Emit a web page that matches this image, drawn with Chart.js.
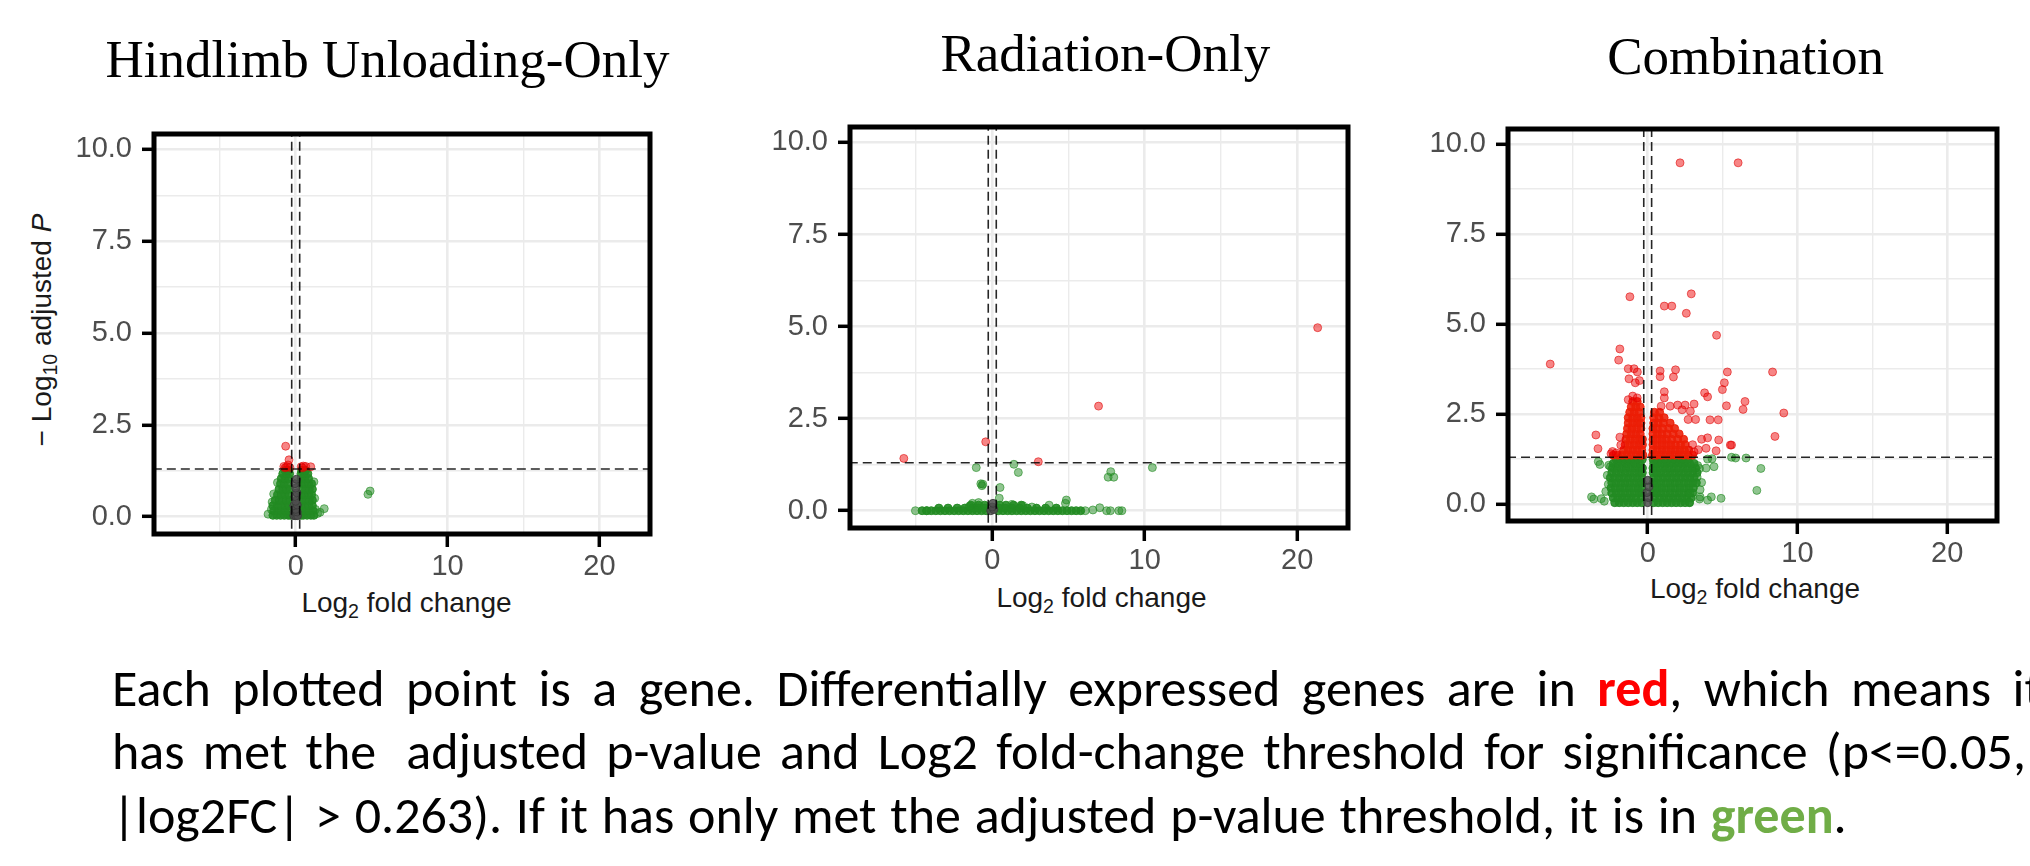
<!DOCTYPE html>
<html>
<head>
<meta charset="utf-8">
<script src="https://cdn.jsdelivr.net/npm/chart.js@4.4.1/dist/chart.umd.min.js"></script>
<style>
  html, body { margin: 0; padding: 0; background: #fff; }
  body { width: 2030px; height: 866px; position: relative; overflow: hidden; }
  canvas { position: absolute; }
  .title { position: absolute; font-family: "Liberation Serif", "Times New Roman", serif; font-size: 53px; line-height: 53px; white-space: nowrap; transform: translateX(-50%); color: #000; }
  .xlab, .ylab { position: absolute; font-family: "Liberation Sans", Arial, sans-serif; font-size: 28px; line-height: 28px; white-space: nowrap; color: #1a1a1a; }
  .xlab { transform: translateX(-50%); }
  .ylab { transform: translate(-50%, -50%) rotate(-90deg); }
  .xlab sub, .ylab sub { font-size: 0.7em; vertical-align: -0.3em; line-height: 0; }
  #note { position: absolute; left: 112px; top: 657px; font-family: Carlito, Calibri, Lato, sans-serif; font-size: 52px; color: #000; }
  #note .line { height: 63.3px; line-height: 63.3px; white-space: nowrap; }
  #note .just { display: flex; justify-content: space-between; }
  #note .last { word-spacing: 2px; }
  #note .red { color: #ff0000; font-weight: bold; }
  #note .green { color: #70ad47; font-weight: bold; }
</style>
</head>
<body id="body">
<div id="app"></div>
<script>
// axes
const xMin = -9.33, xMax = 23.33;
const yMin = -0.47, yMax = 10.42;
const xGridValues = [-5, 0, 5, 10, 15, 20];
const xTickLabels = [0, 10, 20];
const yGridValues = [0, 1.25, 2.5, 3.75, 5, 6.25, 7.5, 8.75, 10];
const yTickLabels = [0, 2.5, 5, 7.5, 10];
const log2fcCutoff = 0.263;
const pCutoff = 1.301; // -log10(0.05)

const panelTitles = ['Hindlimb Unloading-Only', 'Radiation-Only', 'Combination'];

// Hindlimb unloading-only  [log2FC, -log10 padj]
const hluRed = [[-0.66,1.92],[-0.44,1.55],[-0.78,1.37],[-0.6,1.36],[-0.5,1.41],[-0.7,1.33],[-0.38,1.34],
  [0.36,1.36],[0.5,1.38],[0.66,1.37],[0.99,1.36],[0.45,1.33]];
const hluGreen = [[4.76,0.61],[4.9,0.7],[-1.82,0.07],[1.44,0.09],[1.88,0.22],[1.6,0.12],[-1.55,0.4],
  [-1.2,0.93],[1.2,0.95],[1.25,0.5],[-1.45,0.62],[1.3,0.2],[-1.6,0.2]];
const hluGreenDense = [
  [-1.5,0.04],[-1.25,0.04],[-1.0,0.04],[-0.75,0.04],[-0.5,0.04],[-0.34,0.04],[0.34,0.04],[0.5,0.04],[0.75,0.04],[1.0,0.04],[1.2,0.04],
  [-1.45,0.16],[-1.2,0.16],[-0.95,0.16],[-0.7,0.16],[-0.45,0.16],[0.4,0.16],[0.65,0.16],[0.9,0.16],[1.15,0.16],
  [-1.5,0.3],[-1.2,0.3],[-0.95,0.3],[-0.7,0.3],[-0.45,0.3],[0.35,0.3],[0.6,0.3],[0.85,0.3],[1.1,0.3],
  [-1.35,0.45],[-1.1,0.45],[-0.85,0.45],[-0.6,0.45],[-0.38,0.45],[0.4,0.45],[0.65,0.45],[0.9,0.45],[1.1,0.45],
  [-1.2,0.6],[-0.95,0.6],[-0.7,0.6],[-0.45,0.6],[0.35,0.6],[0.6,0.6],[0.85,0.6],[1.05,0.6],
  [-1.1,0.75],[-0.85,0.75],[-0.6,0.75],[-0.38,0.75],[0.4,0.75],[0.65,0.75],[0.9,0.75],[1.1,0.75],
  [-1.0,0.9],[-0.75,0.9],[-0.5,0.9],[0.35,0.9],[0.6,0.9],[0.85,0.9],[1.05,0.9],
  [-0.95,1.04],[-0.7,1.04],[-0.45,1.04],[0.35,1.04],[0.6,1.04],[0.85,1.04],
  [-0.85,1.17],[-0.6,1.17],[-0.4,1.17],[0.35,1.17],[0.55,1.17],[0.8,1.17],
  [-0.7,1.26],[-0.45,1.26],[0.4,1.26],[0.65,1.26]];
const hluGrey = [[-0.12,0.03],[0,0.03],[0.12,0.03],[-0.1,0.13],[0.1,0.13],[0,0.2],[-0.12,0.3],[0.1,0.32],
  [0,0.42],[-0.05,0.55],[0.08,0.65],[0,0.78],[-0.05,0.9],[0.05,1.02]];

// Radiation-only
const radRed = [[-5.8,1.42],[-0.43,1.87],[3.02,1.33],[6.97,2.84],[21.34,4.97]];
const radGreen = [[-1.05,1.17],[1.42,1.26],[1.71,1.04],[-0.75,0.73],[-0.62,0.72],[-0.68,0.68],[0.51,0.63],
  [0.46,0.34],[7.77,1.06],[7.6,0.91],[7.97,0.91],[10.5,1.17],[4.86,0.29],[4.8,0.2],[3.73,0.15],
  [-5.04,0.0],[-4.3,0.0],[6.1,0.0],[6.6,0.02],[7.05,0.08],[7.5,0.0],[7.75,0.0],[8.3,0.0],[8.5,0.0],
  [-1.3,0.2],[-0.9,0.22],[1.3,0.17],[2.0,0.14],[2.6,0.1],[-1.5,0.12]];
const radGreenDense = [
  [-4.6,0],[-4.3,0],[-4.0,0],[-3.7,0],[-3.4,0],[-3.1,0],[-2.8,0],[-2.5,0],[-2.2,0],[-1.9,0],[-1.6,0],[-1.3,0],
  [-1.0,0],[-0.7,0],[-0.4,0],[0.4,0],[0.7,0],[1.0,0],[1.3,0],[1.6,0],[1.9,0],[2.2,0],[2.5,0],[2.8,0],[3.1,0],
  [3.4,0],[3.7,0],[4.0,0],[4.3,0],[4.6,0],[4.9,0],[5.2,0],[5.5,0],[5.8,0],
  [-3.5,0.07],[-2.9,0.07],[-2.3,0.07],[-1.8,0.07],[-1.3,0.07],[-0.9,0.07],[-0.5,0.07],[0.45,0.07],[0.85,0.07],
  [1.3,0.07],[1.8,0.07],[2.3,0.07],[2.9,0.07],[3.5,0.07],[4.2,0.07],
  [-1.4,0.15],[-0.9,0.15],[-0.5,0.15],[0.5,0.15],[0.9,0.15],[1.4,0.15],[1.9,0.15]];
const radGrey = [[-0.1,0.0],[0.1,0.03],[0.0,0.1],[0.05,0.2]];

// Combination
const comboRed = [[2.16,9.48],[6.04,9.48],[-1.19,5.76],[2.91,5.84],[1.11,5.5],[1.61,5.5],[2.58,5.3],[4.6,4.69],
  [-6.51,3.89],[-1.86,4.31],[-1.94,4.0],[-1.3,3.76],[-0.91,3.76],[-0.69,3.67],[-1.25,3.48],[-0.83,3.37],
  [-0.55,3.43],[0.83,3.7],[0.83,3.54],[1.86,3.73],[1.72,3.53],[5.32,3.67],[5.12,3.37],[4.99,3.18],[8.34,3.67],
  [1.11,3.12],[3.8,3.09],[4.0,2.98],[6.5,2.85],[6.37,2.63],[5.26,2.73],[9.09,2.53],[8.5,1.88],[-3.46,1.92],
  [-3.32,1.54],[-2.35,1.46],[-1.86,1.86],[-1.8,1.64],[4.16,2.34],[4.71,2.34],[5.6,1.64],[4.57,1.48],[4.0,1.84],
  [3.38,1.51],[-1.0,3.0],[-0.7,2.95],[-1.3,2.9],[1.11,2.95],[0.9,2.72],[1.5,2.72],[2.0,2.75],[2.5,2.75],
  [3.1,2.78],[2.3,2.62],[2.85,2.58],[3.2,2.35],[2.7,2.35],[4.74,1.78],[5.52,1.64],[3.6,1.8],[3.9,1.55],
  [3.1,1.45],[3.0,1.65],[-2.45,1.4],[-2.1,1.42]];
const comboRedDense = [
  [-2.3,1.36],[-2.0,1.36],[-1.7,1.36],[-1.4,1.36],[-1.1,1.36],[-0.8,1.36],[-0.5,1.36],[-0.32,1.36],
  [-1.6,1.5],[-1.3,1.5],[-1.0,1.5],[-0.7,1.5],[-0.4,1.5],
  [-1.5,1.65],[-1.2,1.65],[-0.9,1.65],[-0.6,1.65],[-0.35,1.65],
  [-1.45,1.8],[-1.15,1.8],[-0.85,1.8],[-0.55,1.8],[-0.35,1.8],
  [-1.4,1.95],[-1.1,1.95],[-0.8,1.95],[-0.5,1.95],
  [-1.35,2.1],[-1.05,2.1],[-0.75,2.1],[-0.45,2.1],
  [-1.3,2.25],[-1.0,2.25],[-0.7,2.25],[-0.45,2.25],
  [-1.3,2.4],[-1.0,2.4],[-0.7,2.4],[-0.45,2.4],
  [-1.2,2.55],[-0.9,2.55],[-0.6,2.55],
  [-1.1,2.7],[-0.8,2.7],[-0.5,2.7],
  [-1.0,2.85],[-0.7,2.85],
  [0.32,1.36],[0.6,1.36],[0.9,1.36],[1.2,1.36],[1.5,1.36],[1.8,1.36],[2.1,1.36],[2.4,1.36],[2.7,1.36],[3.0,1.36],
  [0.35,1.5],[0.65,1.5],[0.95,1.5],[1.25,1.5],[1.55,1.5],[1.85,1.5],[2.15,1.5],[2.45,1.5],[2.75,1.5],
  [0.35,1.65],[0.65,1.65],[0.95,1.65],[1.25,1.65],[1.55,1.65],[1.85,1.65],[2.2,1.65],[2.5,1.65],
  [0.35,1.8],[0.65,1.8],[0.95,1.8],[1.25,1.8],[1.6,1.8],[2.0,1.8],[2.4,1.8],
  [0.35,1.95],[0.65,1.95],[0.95,1.95],[1.3,1.95],[1.7,1.95],[2.1,1.95],
  [0.35,2.1],[0.65,2.1],[1.0,2.1],[1.4,2.1],[1.8,2.1],
  [0.4,2.25],[0.7,2.25],[1.05,2.25],[1.5,2.25],
  [0.4,2.4],[0.75,2.4],[1.1,2.4],
  [0.45,2.55],[0.8,2.55]];
const comboGreen = [[-3.3,1.18],[-2.6,1.08],[-3.19,1.1],[-2.49,1.04],[-3.75,0.2],[-3.1,0.15],[-3.6,0.14],
  [-2.9,0.08],[-2.63,0.55],[-2.8,0.35],[4.25,0.2],[3.5,0.2],[2.8,0.3],[3.9,1.0],[3.34,1.07],[4.0,1.25],
  [4.3,1.26],[4.43,1.04],[3.46,0.99],[5.6,1.3],[5.87,1.28],[6.57,1.28],[7.56,0.99],[7.29,0.38],[4.9,0.16],
  [4.0,0.11],[3.46,0.14],[2.77,0.05],[3.6,0.6],[3.5,0.4],[-2.7,0.8],[3.3,0.75]];
const comboGreenDense = [
  [-2.2,0.04],[-1.9,0.04],[-1.6,0.04],[-1.3,0.04],[-1.0,0.04],[-0.7,0.04],[-0.4,0.04],[0.4,0.04],[0.7,0.04],
  [1.0,0.04],[1.3,0.04],[1.6,0.04],[1.9,0.04],[2.2,0.04],[2.5,0.04],[2.8,0.04],
  [-2.3,0.17],[-2.0,0.17],[-1.7,0.17],[-1.4,0.17],[-1.1,0.17],[-0.8,0.17],[-0.45,0.17],[0.45,0.17],[0.8,0.17],
  [1.1,0.17],[1.4,0.17],[1.7,0.17],[2.0,0.17],[2.3,0.17],[2.6,0.17],[2.9,0.17],
  [-2.4,0.31],[-2.1,0.31],[-1.8,0.31],[-1.5,0.31],[-1.2,0.31],[-0.9,0.31],[-0.6,0.31],[-0.35,0.31],[0.35,0.31],
  [0.6,0.31],[0.9,0.31],[1.2,0.31],[1.5,0.31],[1.8,0.31],[2.1,0.31],[2.4,0.31],[2.7,0.31],[3.0,0.31],
  [-2.45,0.45],[-2.15,0.45],[-1.85,0.45],[-1.55,0.45],[-1.25,0.45],[-0.95,0.45],[-0.65,0.45],[-0.38,0.45],
  [0.38,0.45],[0.65,0.45],[0.95,0.45],[1.25,0.45],[1.55,0.45],[1.85,0.45],[2.15,0.45],[2.45,0.45],[2.75,0.45],[3.05,0.45],
  [-2.4,0.59],[-2.1,0.59],[-1.8,0.59],[-1.5,0.59],[-1.2,0.59],[-0.9,0.59],[-0.6,0.59],[-0.36,0.59],[0.36,0.59],
  [0.6,0.59],[0.9,0.59],[1.2,0.59],[1.5,0.59],[1.8,0.59],[2.1,0.59],[2.4,0.59],[2.7,0.59],[3.0,0.59],[3.25,0.59],
  [-2.5,0.73],[-2.2,0.73],[-1.9,0.73],[-1.6,0.73],[-1.3,0.73],[-1.0,0.73],[-0.7,0.73],[-0.4,0.73],[0.4,0.73],
  [0.7,0.73],[1.0,0.73],[1.3,0.73],[1.6,0.73],[1.9,0.73],[2.2,0.73],[2.5,0.73],[2.8,0.73],[3.1,0.73],
  [-2.4,0.87],[-2.1,0.87],[-1.8,0.87],[-1.5,0.87],[-1.2,0.87],[-0.9,0.87],[-0.6,0.87],[-0.36,0.87],[0.36,0.87],
  [0.6,0.87],[0.9,0.87],[1.2,0.87],[1.5,0.87],[1.8,0.87],[2.1,0.87],[2.4,0.87],[2.7,0.87],[3.0,0.87],[3.3,0.87],
  [-2.35,1.0],[-2.05,1.0],[-1.75,1.0],[-1.45,1.0],[-1.15,1.0],[-0.85,1.0],[-0.55,1.0],[-0.35,1.0],[0.35,1.0],
  [0.55,1.0],[0.85,1.0],[1.15,1.0],[1.45,1.0],[1.75,1.0],[2.05,1.0],[2.35,1.0],[2.65,1.0],[2.95,1.0],[3.2,1.0],
  [-2.3,1.13],[-2.0,1.13],[-1.7,1.13],[-1.4,1.13],[-1.1,1.13],[-0.8,1.13],[-0.5,1.13],[0.4,1.13],[0.7,1.13],
  [1.0,1.13],[1.3,1.13],[1.6,1.13],[1.9,1.13],[2.2,1.13],[2.5,1.13],[2.8,1.13],[3.1,1.13],
  [-2.1,1.24],[-1.8,1.24],[-1.5,1.24],[-1.2,1.24],[-0.9,1.24],[-0.6,1.24],[-0.36,1.24],[0.36,1.24],[0.6,1.24],
  [0.9,1.24],[1.2,1.24],[1.5,1.24],[1.8,1.24],[2.1,1.24],[2.4,1.24],[2.7,1.24]];
const comboGrey = [[0,0.04],[0.05,0.18],[-0.05,0.32],[0.08,0.48],[0,0.66]];

const panelData = [
  { red: hluRed, green: hluGreen, greenDense: hluGreenDense, grey: hluGrey },
  { red: radRed, green: radGreen, greenDense: radGreenDense, grey: radGrey },
  { red: comboRed, redDense: comboRedDense, green: comboGreen, greenDense: comboGreenDense, grey: comboGrey }
];

// caption words (justified lines 1-2, plain line 3)
const noteLine1 = ['Each', 'plotted', 'point', 'is', 'a', 'gene.', 'Differentially', 'expressed', 'genes', 'are', 'in', '<span class="red">red</span>,', 'which', 'means', 'it'];
const noteLine2 = ['has', 'met', 'the', '&nbsp;adjusted', 'p-value', 'and', 'Log2', 'fold-change', 'threshold', 'for', 'significance', '(p&lt;=0.05,'];
const noteLine3 = '|log2FC| &gt; 0.263). If it has only met the adjusted p-value threshold, it is in <span class="green">green</span>.';

// where each plot box sits on the page
const layout = [
  { box: { left: 154, top: 134, right: 650, bottom: 534 }, titleX: 387.5, titleTop: 32.6, xlabX: 406.5, xlabTop: 589 },
  { box: { left: 850, top: 127, right: 1348, bottom: 528 }, titleX: 1105.3, titleTop: 26.8, xlabX: 1101.5, xlabTop: 584 },
  { box: { left: 1508, top: 129, right: 1997, bottom: 521 }, titleX: 1745.6, titleTop: 29.9, xlabX: 1755, xlabTop: 575 }
];
const AXIS_W = 90, AXIS_H = 50, PAD_T = 32, PAD_R = 12;

const app = document.getElementById('app');

const framePlugin = {
  id: 'frame',
  afterDraw(chart) {
    const { ctx, chartArea: a } = chart;
    ctx.save();
    ctx.lineWidth = 5;
    ctx.strokeStyle = '#000';
    ctx.strokeRect(a.left, a.top, a.right - a.left, a.bottom - a.top);
    ctx.restore();
  }
};

const pts = arr => arr.map(([x, y]) => ({ x, y }));
const dash = { showLine: true, pointRadius: 0, borderColor: 'rgba(0,0,0,0.85)', borderWidth: 1.6, borderDash: [9, 5], order: 0 };
const dot = (fill, edge, order) => ({ backgroundColor: fill, borderColor: edge, borderWidth: 1, pointRadius: 4, order });

function buildDatasets(d) {
  const sets = [
    { ...dash, data: [{ x: -log2fcCutoff, y: yMin - 1 }, { x: -log2fcCutoff, y: yMax + 1 }] },
    { ...dash, data: [{ x: log2fcCutoff, y: yMin - 1 }, { x: log2fcCutoff, y: yMax + 1 }] },
    { ...dash, data: [{ x: xMin - 1, y: pCutoff }, { x: xMax + 1, y: pCutoff }] },
    { ...dot('rgba(238,0,0,0.48)', 'rgba(220,0,0,0.55)', 1), data: pts(d.red) },
    { ...dot('rgba(77,77,77,0.85)', 'rgba(60,60,60,0.85)', 3), data: pts(d.grey) },
    { ...dot('rgba(34,139,34,0.5)', 'rgba(34,139,34,0.6)', 4), data: pts(d.green) },
    { ...dot('rgba(34,139,34,0.9)', 'rgba(34,139,34,0.9)', 5), data: pts(d.greenDense) }
  ];
  if (d.redDense) sets.push({ ...dot('rgba(236,30,6,0.88)', 'rgba(236,30,6,0.88)', 2), data: pts(d.redDense) });
  return sets;
}

const tickFont = { family: '"Liberation Sans", Arial, sans-serif', size: 29 };

layout.forEach((L, i) => {
  const b = L.box;
  const canvas = document.createElement('canvas');
  canvas.width = (b.right - b.left) + AXIS_W + PAD_R;
  canvas.height = (b.bottom - b.top) + PAD_T + AXIS_H;
  canvas.style.left = (b.left - AXIS_W) + 'px';
  canvas.style.top = (b.top - PAD_T) + 'px';
  app.appendChild(canvas);

  app.insertAdjacentHTML('beforeend', `
    <div class="title" style="left:${L.titleX}px;top:${L.titleTop}px">${panelTitles[i]}</div>
    <div class="xlab" style="left:${L.xlabX}px;top:${L.xlabTop}px">Log<sub>2</sub> fold change</div>
  `);

  new Chart(canvas, {
    type: 'scatter',
    data: { datasets: buildDatasets(panelData[i]) },
    options: {
      responsive: false,
      animation: false,
      events: [],
      layout: { padding: { left: 0, top: PAD_T, right: PAD_R, bottom: 0 } },
      plugins: { legend: { display: false }, tooltip: { enabled: false } },
      scales: {
        x: {
          type: 'linear', min: xMin, max: xMax,
          afterBuildTicks: s => { s.ticks = xGridValues.map(v => ({ value: v })); },
          afterFit: s => { s.height = AXIS_H; },
          border: { display: false },
          grid: {
            color: '#ebebeb',
            lineWidth: c => xTickLabels.includes(c.tick && c.tick.value) ? 2.6 : 1.4,
            tickLength: 13,
            tickWidth: 3.5,
            tickColor: c => xTickLabels.includes(c.tick && c.tick.value) ? '#000' : 'rgba(0,0,0,0)'
          },
          ticks: {
            autoSkip: false, maxRotation: 0, padding: 3, color: '#4d4d4d', font: tickFont,
            callback: v => xTickLabels.includes(v) ? String(v) : ''
          }
        },
        y: {
          type: 'linear', min: yMin, max: yMax,
          afterBuildTicks: s => { s.ticks = yGridValues.map(v => ({ value: v })); },
          afterFit: s => { s.width = AXIS_W; },
          border: { display: false },
          grid: {
            color: '#ebebeb',
            lineWidth: c => yTickLabels.includes(c.tick && c.tick.value) ? 2.6 : 1.4,
            tickLength: 12,
            tickWidth: 3.5,
            tickColor: c => yTickLabels.includes(c.tick && c.tick.value) ? '#000' : 'rgba(0,0,0,0)'
          },
          ticks: {
            autoSkip: false, padding: 10, color: '#4d4d4d', font: tickFont,
            callback: v => yTickLabels.includes(v) ? v.toFixed(1) : ''
          }
        }
      }
    },
    plugins: [framePlugin]
  });
});

app.insertAdjacentHTML('beforeend', `
  <div class="ylab" style="left:42px;top:330px">− Log<sub>10</sub> adjusted <i>P</i></div>
  <div id="note">
    <div class="line just" style="width:1930px">${noteLine1.map(w => `<span>${w}</span>`).join('')}</div>
    <div class="line just" style="width:1914px">${noteLine2.map(w => `<span>${w}</span>`).join('')}</div>
    <div class="line last">${noteLine3}</div>
  </div>
`);
</script>
</body>
</html>
